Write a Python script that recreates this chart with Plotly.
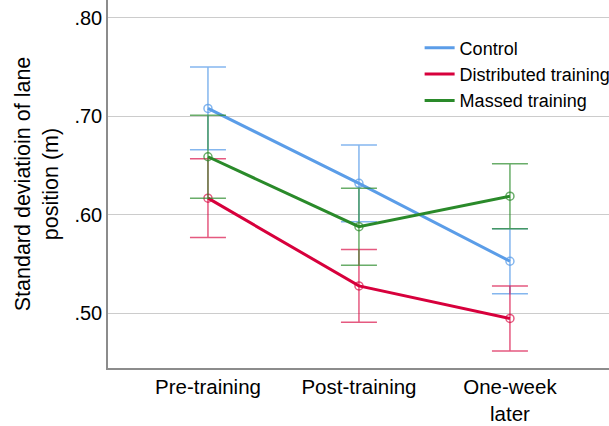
import plotly.graph_objects as go

# Time points of the lane-keeping measurement
sessions = ["Pre-training", "Post-training", "One-week<br>later"]

# Mean SD of lane position (m) and error-bar half-widths per group
control_mean = [0.708, 0.632, 0.553]
control_err = [0.042, 0.039, 0.033]

distributed_mean = [0.617, 0.528, 0.495]
distributed_err = [0.040, 0.037, 0.033]

massed_mean = [0.659, 0.588, 0.619]
massed_err = [0.042, 0.039, 0.033]

ytick_vals = [0.50, 0.60, 0.70, 0.80]
ytick_text = [".50", ".60", ".70", ".80"]

groups = [
    ("Control", control_mean, control_err, "#5b9de8", "rgba(91,157,232,0.75)"),
    ("Distributed training", distributed_mean, distributed_err, "#d7003c", "rgba(215,0,60,0.65)"),
    ("Massed training", massed_mean, massed_err, "#2a8a2a", "rgba(42,138,42,0.7)"),
]

fig = go.Figure()

for name, mean, err, col, col_soft in groups:
    fig.add_trace(go.Scatter(
        x=sessions, y=mean, mode="lines+markers", name=name,
        showlegend=False,
        line=dict(color=col, width=3),
        marker=dict(symbol="circle-open", size=8, color=col_soft, line=dict(width=1.5)),
        error_y=dict(type="data", array=err, visible=True,
                     color=col_soft, thickness=1.5, width=18),
    ))

# Legend entries: plain line swatches
for name, mean, err, col, col_soft in groups:
    fig.add_trace(go.Scatter(
        x=[None], y=[None], mode="lines", name=name,
        line=dict(color=col, width=3),
    ))

fig.update_layout(
    width=609, height=426,
    margin=dict(l=108, r=0, t=0, b=58, autoexpand=False),
    paper_bgcolor="white", plot_bgcolor="white",
    font=dict(family="Liberation Sans, Arial, sans-serif", color="black"),
    legend=dict(x=0.622, y=0.92, xanchor="left", yanchor="top",
                font=dict(size=18), bgcolor="rgba(0,0,0,0)",
                tracegroupgap=0, itemwidth=30),
    showlegend=True,
)

fig.update_xaxes(
    type="category", range=[-0.662, 2.656], automargin=False,
    showline=True, linecolor="#8c8c8c", linewidth=1.5,
    showgrid=False, ticks="", tickfont=dict(size=20.5),
    ticklabelstandoff=0,
)

fig.update_yaxes(
    range=[0.4447, 0.818], automargin=False,
    tickvals=ytick_vals, ticktext=ytick_text,
    showline=True, linecolor="#8c8c8c", linewidth=1.5,
    showgrid=True, gridcolor="#cccccc", gridwidth=1.2,
    zeroline=False, ticks="", tickfont=dict(size=20),
    title=dict(text="Standard deviatioin of lane<br>position (m)",
               font=dict(size=21.5), standoff=10),
)

fig.write_html("out.html")
